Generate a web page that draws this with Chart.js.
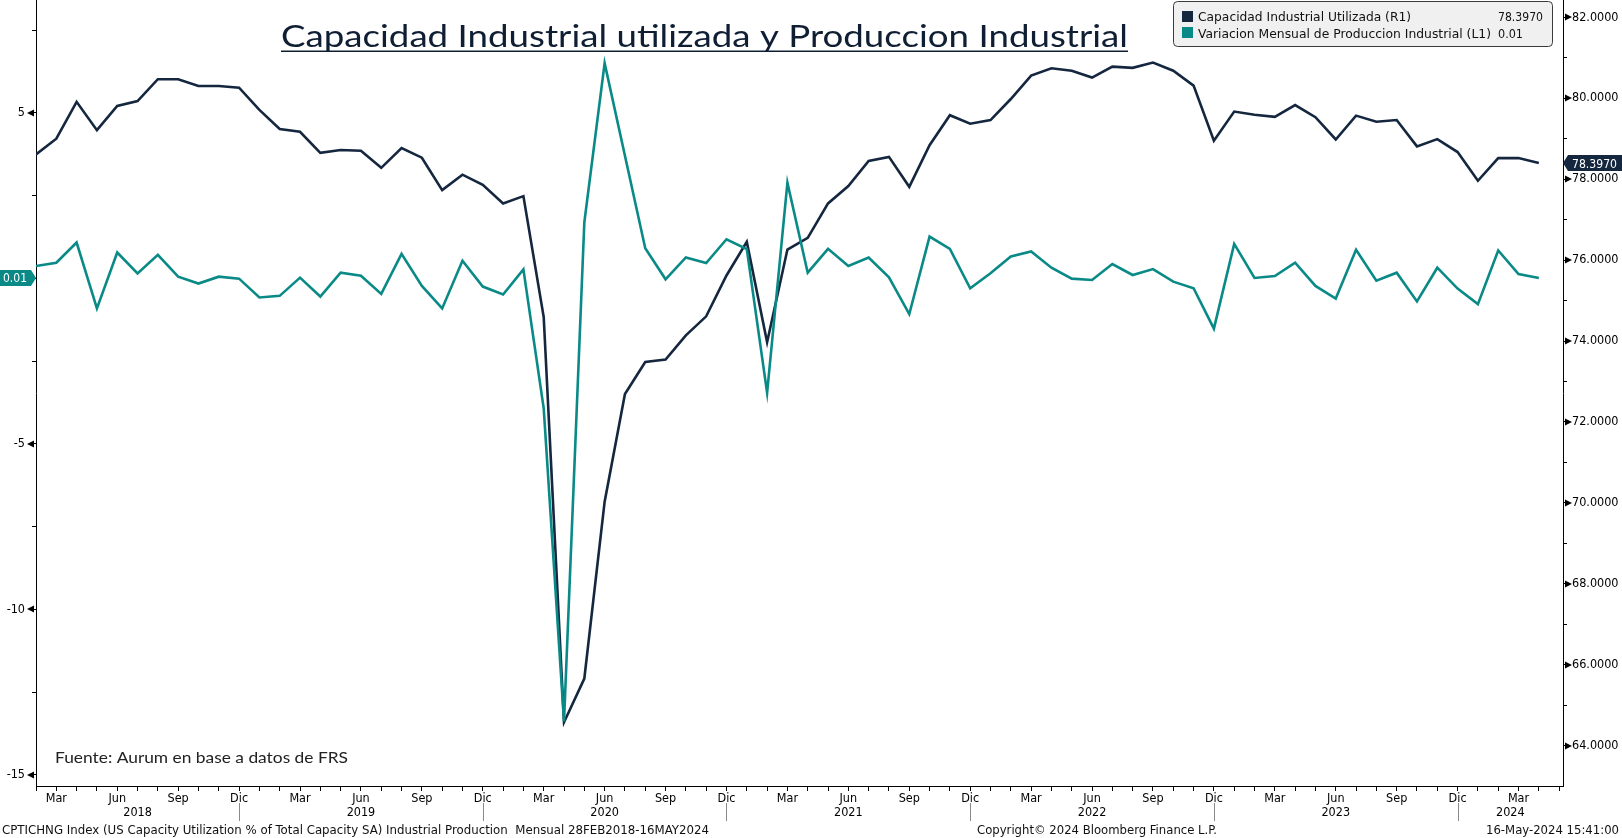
<!DOCTYPE html>
<html>
<head>
<meta charset="utf-8">
<script src="https://cdn.jsdelivr.net/npm/chart.js@4.4.1/dist/chart.umd.min.js"></script>
<style>
html,body{margin:0;padding:0;background:#ffffff;overflow:hidden}
canvas{display:block}
</style>
</head>
<body>
<canvas id="c" width="1622" height="838"></canvas>
<script>
// ---- datos ----
const meses = [
  '2018-02','2018-03','2018-04','2018-05','2018-06','2018-07','2018-08','2018-09','2018-10','2018-11','2018-12',
  '2019-01','2019-02','2019-03','2019-04','2019-05','2019-06','2019-07','2019-08','2019-09','2019-10','2019-11','2019-12',
  '2020-01','2020-02','2020-03','2020-04','2020-05','2020-06','2020-07','2020-08','2020-09','2020-10','2020-11','2020-12',
  '2021-01','2021-02','2021-03','2021-04','2021-05','2021-06','2021-07','2021-08','2021-09','2021-10','2021-11','2021-12',
  '2022-01','2022-02','2022-03','2022-04','2022-05','2022-06','2022-07','2022-08','2022-09','2022-10','2022-11','2022-12',
  '2023-01','2023-02','2023-03','2023-04','2023-05','2023-06','2023-07','2023-08','2023-09','2023-10','2023-11','2023-12',
  '2024-01','2024-02','2024-03','2024-04'
];
const capacidad = [
  78.61, 79.00, 79.91, 79.21, 79.81, 79.93, 80.47, 80.47, 80.30, 80.30, 80.26,
  79.71, 79.24, 79.17, 78.65, 78.72, 78.70, 78.28, 78.77, 78.53, 77.73, 78.11, 77.86,
  77.40, 77.58, 74.59, 64.58, 65.66, 70.03, 72.69, 73.48, 73.54, 74.14, 74.61, 75.62,
  76.45, 73.97, 76.26, 76.55, 77.40, 77.83, 78.45, 78.55, 77.81, 78.84, 79.58, 79.37,
  79.46, 79.98, 80.56, 80.74, 80.68, 80.51, 80.78, 80.75, 80.88, 80.68, 80.31, 78.95,
  79.67, 79.59, 79.54, 79.83, 79.53, 78.98, 79.57, 79.42, 79.46, 78.81, 78.99, 78.67,
  77.96, 78.52, 78.52, 78.397
];
const variacion = [
  0.37, 0.47, 1.08, -0.91, 0.78, 0.15, 0.71, 0.05, -0.16, 0.05, -0.01,
  -0.58, -0.53, 0.02, -0.55, 0.17, 0.08, -0.47, 0.74, -0.23, -0.91, 0.53, -0.25,
  -0.49, 0.27, -3.93, -13.39, 1.69, 6.50, 3.70, 0.91, -0.03, 0.63, 0.46, 1.18,
  0.88, -3.46, 2.89, 0.17, 0.89, 0.37, 0.63, 0.03, -1.08, 1.26, 0.89, -0.30,
  0.15, 0.66, 0.81, 0.32, -0.01, -0.05, 0.43, 0.10, 0.28, -0.10, -0.30, -1.52,
  1.04, 0.01, 0.07, 0.47, -0.23, -0.61, 0.86, -0.07, 0.17, -0.70, 0.32, -0.31,
  -0.78, 0.84, 0.13, 0.01
];
const nombresMes = ['Ene','Feb','Mar','Abr','May','Jun','Jul','Ago','Sep','Oct','Nov','Dic'];
const mesesConEtiqueta = ['Mar','Jun','Sep','Dic'];
const anios = ['2018','2019','2020','2021','2022','2023','2024'];
const serieCap = 'Capacidad Industrial Utilizada (R1)';
const serieVar = 'Variacion Mensual de Produccion Industrial (L1)';
const titulo = 'Capacidad Industrial utilizada y Produccion Industrial';
const fuente = 'Fuente: Aurum en base a datos de FRS';
const pie1 = 'CPTICHNG Index (US Capacity Utilization % of Total Capacity SA) Industrial Production  Mensual 28FEB2018-16MAY2024';
const pie2 = 'Copyright\u00A9 2024 Bloomberg Finance L.P.';
const pie3 = '16-May-2024 15:41:00';

// ---- estilo ----
const BBG = "'DejaVu Sans Condensed', 'DejaVu Sans', sans-serif";
const COL_CAP = '#14273f';
const COL_VAR = '#0a8a87';

function mesDe(v) {
  const idx = Math.round(v);
  if (idx >= 0 && idx < meses.length) return parseInt(meses[idx].slice(5), 10) - 1;
  const last = parseInt(meses[meses.length - 1].slice(5), 10) - 1;
  return (last + (idx - (meses.length - 1))) % 12;
}
function etiquetaMes(v) {
  const n = nombresMes[mesDe(v)];
  return mesesConEtiqueta.includes(n) ? n : '';
}
function fitText(ctx, text, x, y, w, font, color) {
  ctx.save();
  ctx.font = font; ctx.fillStyle = color;
  ctx.textAlign = 'left'; ctx.textBaseline = 'alphabetic';
  const m = ctx.measureText(text).width;
  ctx.translate(x, y); ctx.scale(w / m, 1);
  ctx.fillText(text, 0, 0);
  ctx.restore();
}

const overlay = {
  id: 'overlay',
  afterDraw(chart) {
    const ctx = chart.ctx;
    const xs = chart.scales.x, yl = chart.scales.y, yr = chart.scales.y1;
    const area = chart.chartArea;

    // triangles on major ticks
    ctx.save();
    ctx.fillStyle = '#000';
    yl.ticks.forEach(t => {
      if (t.value % 5 !== 0) return;
      const py = Math.round(yl.getPixelForValue(t.value));
      ctx.beginPath();
      ctx.moveTo(area.left - 2, py - 3.5); ctx.lineTo(area.left - 2, py + 3.5); ctx.lineTo(area.left - 9, py);
      ctx.closePath(); ctx.fill();
    });
    yr.ticks.forEach(t => {
      if (t.value % 2 !== 0) return;
      const py = Math.round(yr.getPixelForValue(t.value));
      ctx.beginPath();
      ctx.moveTo(area.right + 2, py - 3.5); ctx.lineTo(area.right + 2, py + 3.5); ctx.lineTo(area.right + 9, py);
      ctx.closePath(); ctx.fill();
    });
    ctx.restore();

    // year separators and year labels
    ctx.save();
    ctx.strokeStyle = '#8a8a8a'; ctx.lineWidth = 1;
    xs.ticks.forEach(t => {
      if (nombresMes[mesDe(t.value)] === 'Dic') {
        const px = Math.round(xs.getPixelForValue(t.value)) + 0.5;
        ctx.beginPath(); ctx.moveTo(px, 803); ctx.lineTo(px, 821); ctx.stroke();
      }
    });
    ctx.font = '12.5px ' + BBG; ctx.fillStyle = '#000'; ctx.textAlign = 'center'; ctx.textBaseline = 'middle';
    anios.forEach((a, k) => {
      const decPrev = meses.indexOf(anios[0] + '-02') - 2 + 12 * k;
      const dec = decPrev + 12;
      const lo = Math.max(xs.min, decPrev), hi = Math.min(xs.max, dec);
      if (hi <= lo) return;
      const cx = (xs.getPixelForValue(lo) + xs.getPixelForValue(hi)) / 2;
      ctx.fillText(a, cx, 813);
    });
    ctx.restore();

    // title
    fitText(ctx, titulo, 281, 46.5, 847, '400 30px Lato', '#0f1e33');
    ctx.save(); ctx.fillStyle = '#0f1e33'; ctx.fillRect(281, 50.5, 847, 1.5); ctx.restore();

    // source
    fitText(ctx, fuente, 55, 763, 293, '400 15px Lato', '#222');

    // legend
    ctx.save();
    const bx = 1173.5, by = 1.5, bw = 379, bh = 45, r = 4;
    ctx.beginPath();
    ctx.moveTo(bx + r, by); ctx.lineTo(bx + bw - r, by); ctx.arcTo(bx + bw, by, bx + bw, by + r, r);
    ctx.lineTo(bx + bw, by + bh - r); ctx.arcTo(bx + bw, by + bh, bx + bw - r, by + bh, r);
    ctx.lineTo(bx + r, by + bh); ctx.arcTo(bx, by + bh, bx, by + bh - r, r);
    ctx.lineTo(bx, by + r); ctx.arcTo(bx, by, bx + r, by, r); ctx.closePath();
    ctx.fillStyle = '#f0f0f0'; ctx.fill();
    ctx.strokeStyle = '#3a3a3a'; ctx.lineWidth = 1; ctx.stroke();
    ctx.fillStyle = COL_CAP; ctx.fillRect(1182, 11, 11, 11);
    ctx.fillStyle = COL_VAR; ctx.fillRect(1182, 27, 11, 11);
    ctx.restore();
    const lastCap = capacidad[capacidad.length - 1];
    const lastVar = variacion[variacion.length - 1];
    fitText(ctx, chart.data.datasets[0].label, 1198, 21, 213, '12px ' + BBG, '#111');
    fitText(ctx, chart.data.datasets[1].label, 1198, 37.5, 293, '12px ' + BBG, '#111');
    fitText(ctx, lastCap.toFixed(4), 1498, 21, 45, '12px ' + BBG, '#111');
    fitText(ctx, lastVar.toFixed(2), 1498, 37.5, 25, '12px ' + BBG, '#111');

    // value tags
    ctx.save();
    let py = yr.getPixelForValue(lastCap);
    ctx.beginPath();
    ctx.moveTo(area.right, py); ctx.lineTo(area.right + 5, py - 8); ctx.lineTo(1622, py - 8);
    ctx.lineTo(1622, py + 8); ctx.lineTo(area.right + 5, py + 8); ctx.closePath();
    ctx.fillStyle = COL_CAP; ctx.fill();
    ctx.restore();
    fitText(ctx, lastCap.toFixed(4), 1572, py + 4.5, 45, '12px ' + BBG, '#ffffff');

    ctx.save();
    py = yl.getPixelForValue(lastVar);
    ctx.beginPath();
    ctx.moveTo(0, py - 8); ctx.lineTo(area.left - 5, py - 8); ctx.lineTo(area.left, py);
    ctx.lineTo(area.left - 5, py + 8); ctx.lineTo(0, py + 8); ctx.closePath();
    ctx.fillStyle = COL_VAR; ctx.fill();
    ctx.restore();
    fitText(ctx, lastVar.toFixed(2), 3, py + 4.5, 24, '12px ' + BBG, '#ffffff');

    // footer
    fitText(ctx, pie1, 2, 834, 707, '12px ' + BBG, '#111');
    fitText(ctx, pie2, 977, 834, 240, '12px ' + BBG, '#111');
    fitText(ctx, pie3, 1486, 834, 133, '12px ' + BBG, '#111');
  }
};

new Chart(document.getElementById('c'), {
  type: 'line',
  data: {
    datasets: [
      {
        label: serieCap,
        data: capacidad.map((v, i) => ({x: i, y: v})),
        yAxisID: 'y1',
        borderColor: COL_CAP,
        backgroundColor: COL_CAP,
        borderWidth: 2.6,
        pointRadius: 0,
        tension: 0,
        order: 1
      },
      {
        label: serieVar,
        data: variacion.map((v, i) => ({x: i, y: v})),
        yAxisID: 'y',
        borderColor: COL_VAR,
        backgroundColor: COL_VAR,
        borderWidth: 2.6,
        pointRadius: 0,
        tension: 0,
        order: 0
      }
    ]
  },
  options: {
    responsive: false,
    animation: false,
    devicePixelRatio: 1,
    layout: {padding: 0},
    plugins: {legend: {display: false}, tooltip: {enabled: false}, title: {display: false}},
    scales: {
      x: {
        type: 'linear', position: 'bottom', min: 0, max: 75.19,
        afterFit(s) { s.height = 52; s.paddingLeft = 0; s.paddingRight = 0; },
        border: {display: true, color: '#000', width: 1},
        grid: {display: true, drawOnChartArea: false, drawTicks: true, tickLength: 5, color: '#000', lineWidth: 1},
        ticks: {
          stepSize: 1, autoSkip: false, includeBounds: false, maxRotation: 0, minRotation: 0,
          padding: 0, color: '#000', font: {family: BBG, size: 12.5},
          callback: (v) => etiquetaMes(v)
        }
      },
      y: {
        type: 'linear', position: 'left', min: -15.338, max: 8.408,
        afterFit(s) { s.width = 36; s.paddingTop = 0; s.paddingBottom = 0; },
        border: {display: true, color: '#000', width: 1},
        grid: {display: true, drawOnChartArea: false, tickLength: 4, color: '#000'},
        ticks: {
          stepSize: 2.5, includeBounds: false, padding: 7, color: '#000', font: {family: BBG, size: 12.5},
          callback: (v) => (v % 5 === 0 ? String(v) : '')
        }
      },
      y1: {
        type: 'linear', position: 'right', min: 63.004, max: 82.427,
        afterFit(s) { s.width = 59; s.paddingTop = 0; s.paddingBottom = 0; },
        border: {display: true, color: '#000', width: 1},
        grid: {display: true, drawOnChartArea: false, tickLength: 4, color: '#000'},
        ticks: {
          stepSize: 1, includeBounds: false, padding: 5, color: '#000', font: {family: BBG, size: 12.5},
          callback: (v) => (v % 2 === 0 ? v.toFixed(4) : '')
        }
      }
    }
  },
  plugins: [overlay]
});
</script>
</body>
</html>
